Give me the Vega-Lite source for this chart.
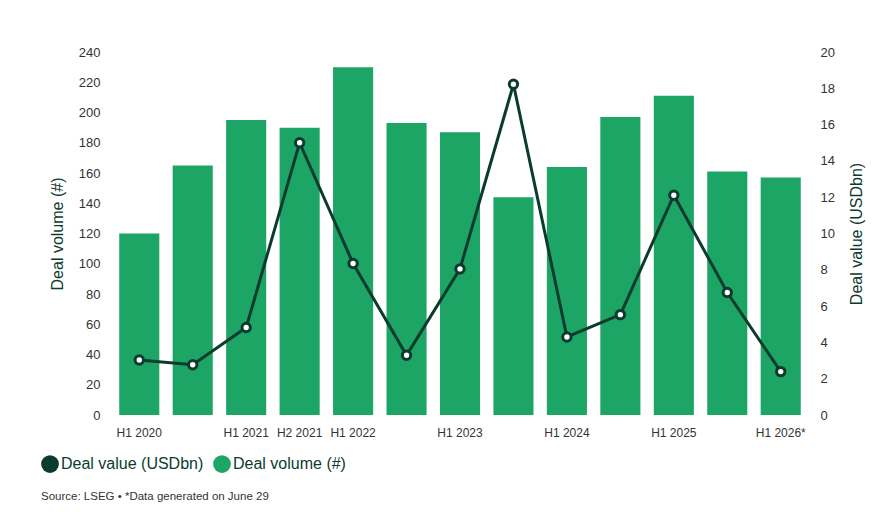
{
  "$schema": "https://vega.github.io/schema/vega-lite/v6.json",
  "width": 704,
  "height": 363,
  "autosize": "none",
  "padding": {"left": 108, "top": 52, "right": 65, "bottom": 98},
  "background": "white",
  "config": {
    "view": {"stroke": null},
    "font": "Liberation Sans"
  },
  "title": {
    "text": "Source: LSEG • *Data generated on June 29",
    "orient": "bottom",
    "anchor": "start",
    "frame": "group",
    "dx": -67,
    "offset": 18,
    "fontSize": 11.5,
    "fontWeight": "normal",
    "color": "#333333",
    "font": "Liberation Sans"
  },
  "data": {
    "values": [
      {"period": "H1 2020", "volume": 120, "value": 3.03},
      {"period": "H2 2020", "volume": 165, "value": 2.77},
      {"period": "H1 2021", "volume": 195, "value": 4.82},
      {"period": "H2 2021", "volume": 190, "value": 15.0},
      {"period": "H1 2022", "volume": 230, "value": 8.35},
      {"period": "H2 2022", "volume": 193, "value": 3.29},
      {"period": "H1 2023", "volume": 187, "value": 8.05},
      {"period": "H2 2023", "volume": 144, "value": 18.22},
      {"period": "H1 2024", "volume": 164, "value": 4.3},
      {"period": "H2 2024", "volume": 197, "value": 5.53},
      {"period": "H1 2025", "volume": 211, "value": 12.11},
      {"period": "H2 2025", "volume": 161, "value": 6.75},
      {"period": "H1 2026*", "volume": 157, "value": 2.39}
    ]
  },
  "encoding": {
    "x": {
      "field": "period",
      "type": "nominal",
      "sort": null,
      "scale": {"paddingInner": 0.25, "paddingOuter": 0.21},
      "axis": {
        "title": null,
        "labelAngle": 0,
        "ticks": false,
        "domain": false,
        "grid": false,
        "labelPadding": 12,
        "labelFontSize": 12,
        "labelColor": "#333333",
        "labelOverlap": false,
        "labelExpr": "indexof(['H2 2020','H2 2022','H2 2023','H2 2024','H2 2025'], datum.value) >= 0 ? '' : datum.value"
      }
    }
  },
  "layer": [
    {
      "mark": {"type": "bar", "color": "#1DA565"},
      "encoding": {
        "y": {
          "field": "volume",
          "type": "quantitative",
          "scale": {"domain": [0, 240], "nice": false},
          "axis": {
            "title": "Deal volume (#)",
            "values": [0, 20, 40, 60, 80, 100, 120, 140, 160, 180, 200, 220, 240],
            "ticks": false,
            "domain": false,
            "grid": false,
            "labelOverlap": false,
            "labelPadding": 8,
            "labelFontSize": 13,
            "labelColor": "#333333",
            "titleFontSize": 16,
            "titleFontWeight": "normal",
            "titleColor": "#0B3B2E",
            "titlePadding": 13
          }
        },
        "color": {
          "datum": "Deal volume (#)",
          "scale": {
            "domain": ["Deal value (USDbn)", "Deal volume (#)"],
            "range": ["#0B3B2E", "#1DA565"]
          },
          "legend": {
            "title": null,
            "orient": "none",
            "direction": "horizontal",
            "legendX": -67,
            "legendY": 403,
            "symbolType": "circle",
            "symbolSize": 314,
            "symbolStrokeWidth": 0,
            "labelFontSize": 16,
            "labelColor": "#0B3B2E",
            "labelOffset": 2,
            "columnPadding": 9,
            "encode": {
              "symbols": {
                "update": {
                  "fill": {"scale": "color", "field": "value"},
                  "stroke": {"value": "transparent"},
                  "opacity": {"value": 1}
                }
              }
            }
          }
        }
      }
    },
    {
      "encoding": {
        "y": {
          "field": "value",
          "type": "quantitative",
          "scale": {"domain": [0, 20], "nice": false},
          "axis": {
            "orient": "right",
            "title": "Deal value (USDbn)",
            "values": [0, 2, 4, 6, 8, 10, 12, 14, 16, 18, 20],
            "ticks": false,
            "domain": false,
            "grid": false,
            "labelOverlap": false,
            "labelPadding": 8,
            "labelFontSize": 13,
            "labelColor": "#333333",
            "titleFontSize": 16,
            "titleFontWeight": "normal",
            "titleColor": "#0B3B2E",
            "titleAngle": -90,
            "titleBaseline": "bottom",
            "titlePadding": 30
          }
        }
      },
      "layer": [
        {
          "mark": {"type": "line", "strokeWidth": 3},
          "encoding": {
            "color": {"datum": "Deal value (USDbn)"}
          }
        },
        {
          "mark": {"type": "point", "filled": true, "fill": "white", "stroke": "#0B3B2E", "strokeWidth": 3, "size": 70, "opacity": 1},
          "encoding": {}
        }
      ]
    }
  ],
  "resolve": {"scale": {"y": "independent"}}
}
